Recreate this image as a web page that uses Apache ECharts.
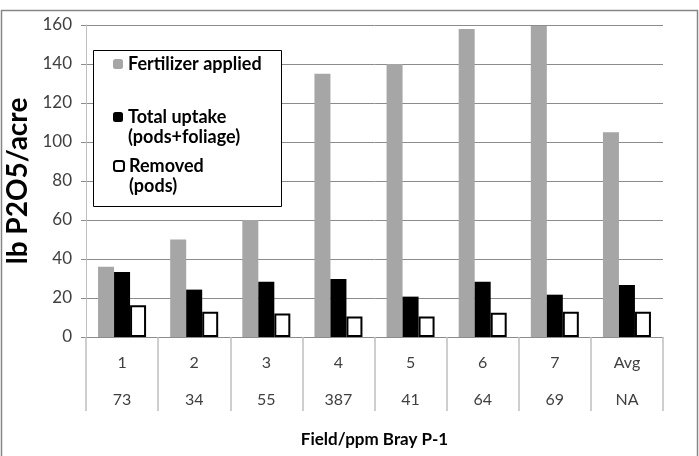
<!DOCTYPE html>
<html lang="en">
<head>
    <meta charset="UTF-8"/>
    <title>P2O5 by field</title>
    <script src="https://cdn.jsdelivr.net/npm/echarts@6/dist/echarts.min.js"></script>
    <style>
        html, body { margin: 0; padding: 0; background: #fff; }
    </style>
</head>
<body>
<div id="main" style="width: 699px;height:456px;"></div>
<script type="text/javascript">
    // field numbers (first label row) and ppm Bray P-1 (second row)
    var fields = ['1', '2', '3', '4', '5', '6', '7', 'Avg'];
    var ppmBray = ['73', '34', '55', '387', '41', '64', '69', 'NA'];

    var fertilizer = [36, 50, 60, 135, 140, 158, 159.5, 105];
    var totalUptake = [33.3, 24.3, 28.3, 29.7, 20.7, 28.3, 21.7, 26.7];
    var removed = [16.3, 13, 12, 10.5, 10.5, 12.5, 13, 13];

    var font = 'Lato';

    var myChart = echarts.init(document.getElementById('main'));

    // one legend per item so each can sit where the original box puts it;
    // leading empty line keeps the icon level with the first text line
    var legendItems = [
        { name: 'Fertilizer applied', text: 'Fertilizer applied', top: 54 },
        { name: 'Total uptake (pods+foliage)', text: '\nTotal uptake\n(pods+foliage)', top: 87 },
        { name: 'Removed (pods)', text: '\nRemoved\n(pods)', top: 136 }
    ];

    var option = {
        animation: false,
        textStyle: { fontFamily: font },
        grid: { left: 86, right: 36, top: 25, bottom: 119, outerBoundsMode: 'none', containLabel: false },
        graphic: [
            { type: 'rect', z: 0, silent: true,
              shape: { x: 1.5, y: 10.5, width: 696, height: 460 },
              style: { fill: 'none', stroke: '#868686', lineWidth: 1.5 } },
            { type: 'rect', z: 5, silent: true,
              shape: { x: 93.5, y: 50.5, width: 188, height: 156 },
              style: { fill: '#fff', stroke: '#000', lineWidth: 1 } }
        ],
        legend: legendItems.map(function (it) {
            return {
                data: [it.name],
                formatter: function () { return it.text; },
                orient: 'vertical', left: 113, top: it.top, padding: 0, z: 10,
                itemWidth: 10, itemHeight: 10, itemGap: 0, selectedMode: false,
                textStyle: {
                    fontFamily: font, fontSize: 18, fontWeight: 'bold', color: '#000',
                    lineHeight: 20
                }
            };
        }),
        xAxis: {
            type: 'category',
            data: fields,
            name: 'Field/ppm Bray P-1',
            nameLocation: 'middle',
            nameGap: 94,
            nameTextStyle: { fontFamily: font, fontSize: 17, fontWeight: 'bold', color: '#000' },
            axisLine: { lineStyle: { color: '#8c8c8c', width: 1 } },
            axisTick: { show: true, interval: 0, length: 74, lineStyle: { color: '#bfbfbf', width: 1.5 } },
            axisLabel: {
                interval: 0, margin: 7, fontSize: 16, color: '#404040', lineHeight: 37,
                formatter: function (v, idx) { return v + '\n' + ppmBray[idx]; }
            }
        },
        yAxis: {
            type: 'value',
            min: 0, max: 160, interval: 20,
            name: 'lb P2O5/acre',
            nameLocation: 'middle',
            nameGap: 42,
            nameRotate: 90,
            nameTextStyle: { fontFamily: font, fontSize: 28, fontWeight: 'bold', color: '#000' },
            axisLine: { show: true, lineStyle: { color: '#bfbfbf', width: 1 } },
            axisTick: { show: true, length: 5, lineStyle: { color: '#8c8c8c' } },
            axisLabel: { fontSize: 17, color: '#404040', margin: 14 },
            splitLine: { lineStyle: { color: '#8c8c8c', width: 1 } }
        },
        series: [
            { name: 'Fertilizer applied', type: 'bar', data: fertilizer,
              barWidth: 16, barGap: '0%',
              itemStyle: { color: '#a6a6a6' } },
            { name: 'Total uptake (pods+foliage)', type: 'bar', data: totalUptake,
              barWidth: 16, barGap: '0%',
              itemStyle: { color: '#000' } },
            { name: 'Removed (pods)', type: 'bar', data: removed,
              barWidth: 16, barGap: '0%',
              itemStyle: { color: '#fff', borderColor: '#000', borderWidth: 2 } }
        ]
    };

    myChart.setOption(option);
</script>
</body>
</html>
